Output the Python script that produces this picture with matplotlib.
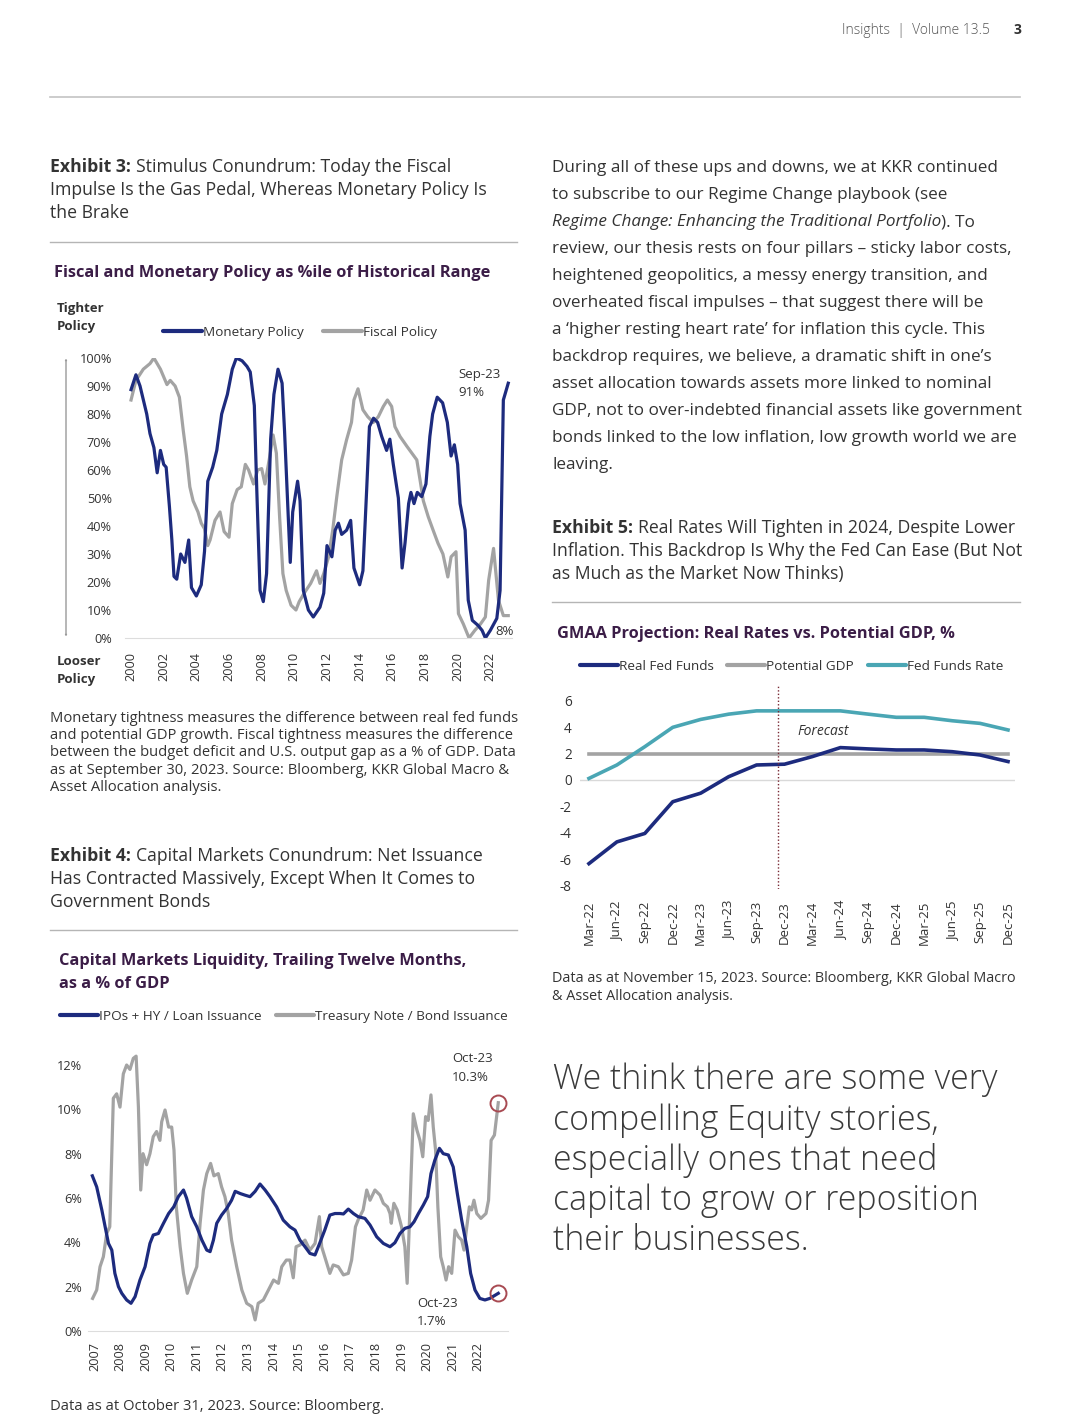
import matplotlib.pyplot as plt
from matplotlib.patches import FancyArrowPatch
from matplotlib.lines import Line2D
import numpy as np

plt.rcParams['font.family'] = ['Open Sans', 'DejaVu Sans']
plt.rcParams['axes.unicode_minus'] = False

W, H = 1070, 1426
fig = plt.figure(figsize=(W / 100, H / 100), dpi=100)

NAVY = '#1d2b7e'
GRAY = '#a3a3a3'
TEAL = '#4aa6b4'
PURPLE = '#3b1d47'
TXT = '#333333'

##########################################
# data - Exhibit 3 (percentile of historical range)
mon_years = [2000.00, 2000.30, 2000.55, 2000.96, 2001.16, 2001.40, 2001.60, 2001.80, 2002.00, 2002.15,
             2002.35, 2002.50, 2002.63, 2002.80, 2003.04, 2003.30, 2003.53, 2003.70, 2004.00, 2004.30,
             2004.50, 2004.70, 2005.00, 2005.25, 2005.55, 2005.90, 2006.20, 2006.45, 2006.80, 2007.10,
             2007.30, 2007.55, 2007.70, 2007.90, 2008.10, 2008.30, 2008.55, 2008.75, 2009.00, 2009.25,
             2009.40, 2009.60, 2009.75, 2009.90, 2010.20, 2010.35, 2010.55, 2010.86, 2011.16, 2011.57,
             2011.80, 2012.00, 2012.30, 2012.50, 2012.70, 2012.90, 2013.20, 2013.45, 2013.65, 2014.00,
             2014.20, 2014.43, 2014.60, 2014.85, 2015.10, 2015.35, 2015.65, 2015.85, 2016.06, 2016.37,
             2016.60, 2016.78, 2017.00, 2017.14, 2017.33, 2017.53, 2017.80, 2018.06, 2018.30, 2018.47,
             2018.75, 2019.08, 2019.37, 2019.60, 2019.80, 2020.00, 2020.15, 2020.46, 2020.65, 2020.90,
             2021.25, 2021.50, 2021.70, 2022.00, 2022.40, 2022.60, 2022.80, 2023.10]
mon_vals = [88.7, 94, 90, 80, 73, 68, 59, 67, 62, 61,
            47, 35, 22, 21, 30, 27, 35, 18, 15, 19,
            31, 56, 61, 67, 80, 87, 96, 100, 99, 97,
            95, 83, 53, 17, 13, 23, 71, 87, 96, 91,
            74, 47, 27, 45, 56, 49, 17, 10, 7.5, 11,
            16, 33, 29, 38.5, 41, 37, 38.5, 42, 25, 19,
            24, 53, 75.5, 78.5, 77, 72, 67, 71, 62, 50,
            25, 34, 48, 52, 48, 52, 50.5, 55, 72, 80,
            86, 84, 77, 65, 69, 62, 48, 38.5, 13.5, 6.3,
            4.5, 2.7, 0, 2.7, 7, 17, 85, 91]

fis_years = [2000.00, 2000.30, 2000.75, 2001.16, 2001.40, 2001.80, 2002.20, 2002.40, 2002.70, 2002.96,
             2003.20, 2003.40, 2003.60, 2003.80, 2004.10, 2004.30, 2004.50, 2004.70, 2004.84, 2005.14,
             2005.45, 2005.70, 2006.00, 2006.20, 2006.50, 2006.75, 2007.00, 2007.20, 2007.50, 2007.75,
             2008.00, 2008.20, 2008.50, 2008.70, 2008.90, 2009.10, 2009.30, 2009.50, 2009.80, 2010.10,
             2010.30, 2010.60, 2011.00, 2011.36, 2011.57, 2011.80, 2012.10, 2012.35, 2012.60, 2012.90,
             2013.20, 2013.50, 2013.65, 2013.90, 2014.20, 2014.50, 2014.84, 2015.14, 2015.45, 2015.70,
             2015.96, 2016.16, 2016.47, 2016.90, 2017.20, 2017.50, 2017.70, 2017.90, 2018.20, 2018.50,
             2018.80, 2019.10, 2019.40, 2019.60, 2019.90, 2020.05, 2020.35, 2020.70, 2021.05, 2021.40,
             2021.70, 2021.90, 2022.20, 2022.50, 2022.80, 2023.10]
fis_vals = [85, 92, 96, 98, 100, 96, 90.5, 92, 90, 86,
            74, 65, 54, 49, 45, 41, 39, 33, 35, 42,
            45, 38, 36, 48, 53, 54, 62, 60, 55, 60,
            60.5, 55, 65, 72.5, 66, 43, 23, 17, 11.7, 10,
            13, 16, 19.5, 24, 19.5, 23, 29, 38.5, 50.5, 63.6,
            70.8, 77, 85, 89, 81.5, 79, 77, 79, 82.7, 85,
            82.7, 75.5, 72, 68.4, 66, 63.6, 56.4, 49, 43.3, 38.5,
            33.8, 30, 21.8, 29, 30.8, 8.7, 5, 0, 2.7, 5,
            7.5, 20.6, 32, 13.5, 8, 8]

##########################################
# data - Exhibit 4 (% of GDP, trailing twelve months)
ipo_years = [2006.92, 2007.09, 2007.29, 2007.42, 2007.55, 2007.68, 2007.80, 2007.94, 2008.07, 2008.26,
             2008.43, 2008.59, 2008.78, 2008.98, 2009.17, 2009.30, 2009.50, 2009.70, 2009.90, 2010.10,
             2010.28, 2010.48, 2010.60, 2010.80, 2011.00, 2011.20, 2011.39, 2011.52, 2011.65, 2011.78,
             2011.97, 2012.17, 2012.36, 2012.50, 2012.70, 2012.88, 2013.08, 2013.28, 2013.47, 2013.67,
             2013.86, 2014.12, 2014.38, 2014.64, 2014.84, 2015.03, 2015.23, 2015.42, 2015.62, 2015.80,
             2016.00, 2016.20, 2016.40, 2016.60, 2016.73, 2016.92, 2017.12, 2017.30, 2017.57, 2017.77,
             2018.03, 2018.29, 2018.55, 2018.74, 2018.94, 2019.13, 2019.33, 2019.49, 2019.66, 2019.85,
             2020.02, 2020.15, 2020.30, 2020.48, 2020.63, 2020.83, 2021.02, 2021.18, 2021.35, 2021.55,
             2021.70, 2021.87, 2022.06, 2022.26, 2022.45, 2022.78]
ipo_vals = [7.0, 6.5, 5.46, 4.7, 3.95, 3.65, 2.6, 2.0, 1.7, 1.4,
            1.25, 1.55, 2.3, 2.9, 3.95, 4.33, 4.4, 4.86, 5.3, 5.6,
            6.06, 6.36, 6.0, 5.16, 4.7, 4.1, 3.65, 3.58, 4.1, 4.86,
            5.23, 5.53, 5.9, 6.3, 6.2, 6.13, 6.06, 6.3, 6.63, 6.36,
            6.06, 5.6, 5.0, 4.7, 4.55, 4.1, 3.8, 3.5, 3.43, 3.95,
            4.55, 5.23, 5.3, 5.3, 5.28, 5.5, 5.3, 5.16, 5.08, 4.78,
            4.25, 3.95, 3.8, 3.98, 4.4, 4.63, 4.7, 4.93, 5.3, 5.68,
            6.06, 7.1, 7.7, 8.24, 8.0, 7.94, 7.4, 6.2, 5.0, 3.8,
            2.6, 1.85, 1.47, 1.4, 1.47, 1.7]

tsy_years = [2006.93, 2007.09, 2007.22, 2007.35, 2007.48, 2007.60, 2007.74, 2007.87, 2008.00, 2008.13,
             2008.26, 2008.39, 2008.52, 2008.63, 2008.72, 2008.81, 2008.90, 2009.04, 2009.17, 2009.30,
             2009.43, 2009.56, 2009.63, 2009.76, 2009.90, 2010.02, 2010.11, 2010.20, 2010.35, 2010.48,
             2010.63, 2010.80, 2011.00, 2011.13, 2011.26, 2011.39, 2011.54, 2011.67, 2011.84, 2011.97,
             2012.10, 2012.23, 2012.36, 2012.56, 2012.76, 2012.95, 2013.15, 2013.28, 2013.40, 2013.60,
             2013.80, 2014.00, 2014.19, 2014.32, 2014.50, 2014.64, 2014.77, 2014.88, 2015.03, 2015.23,
             2015.42, 2015.62, 2015.79, 2015.88, 2016.00, 2016.20, 2016.33, 2016.53, 2016.73, 2016.92,
             2017.05, 2017.20, 2017.30, 2017.50, 2017.64, 2017.77, 2017.96, 2018.16, 2018.29, 2018.45,
             2018.55, 2018.60, 2018.70, 2018.83, 2019.00, 2019.13, 2019.22, 2019.33, 2019.46, 2019.60,
             2019.72, 2019.83, 2019.94, 2020.04, 2020.15, 2020.24, 2020.33, 2020.42, 2020.53, 2020.63,
             2020.74, 2020.84, 2020.96, 2021.09, 2021.22, 2021.35, 2021.44, 2021.55, 2021.65, 2021.74,
             2021.83, 2021.94, 2022.10, 2022.30, 2022.40, 2022.50, 2022.63, 2022.78]
tsy_vals = [1.47, 1.85, 2.9, 3.35, 4.4, 4.7, 10.5, 10.7, 10.1, 11.6,
            12.0, 11.8, 12.3, 12.4, 10.1, 6.36, 8.0, 7.5, 8.0, 8.77,
            9.0, 8.6, 9.44, 9.97, 9.2, 9.2, 8.16, 5.6, 3.8, 2.6,
            1.7, 2.3, 2.9, 4.86, 6.36, 7.1, 7.56, 7.0, 7.1, 6.5,
            6.06, 5.3, 4.1, 2.9, 1.85, 1.25, 1.1, 0.5, 1.25, 1.4,
            1.85, 2.3, 2.15, 2.9, 3.2, 3.2, 2.4, 3.8, 3.88, 4.1,
            3.65, 3.95, 5.16, 3.8, 3.35, 2.6, 2.98, 2.9, 2.53, 2.6,
            3.2, 4.7, 5.0, 5.46, 6.36, 5.9, 6.36, 6.13, 5.76, 5.6,
            5.3, 4.86, 5.76, 5.46, 4.7, 3.8, 2.15, 5.6, 9.8, 9.07,
            8.6, 7.86, 9.67, 9.5, 10.65, 9.2, 8.16, 5.6, 3.35, 2.9,
            2.3, 2.9, 2.6, 4.55, 4.25, 4.1, 3.65, 4.7, 5.6, 5.46,
            5.9, 5.3, 5.08, 5.3, 5.9, 8.6, 8.84, 10.3]

##########################################
# data - Exhibit 5 (quarterly, %)
quarters = ['Mar-22', 'Jun-22', 'Sep-22', 'Dec-22', 'Mar-23', 'Jun-23', 'Sep-23', 'Dec-23',
            'Mar-24', 'Jun-24', 'Sep-24', 'Dec-24', 'Mar-25', 'Jun-25', 'Sep-25', 'Dec-25']
real_ff = [-6.35, -4.7, -4.06, -1.65, -1.0, 0.25, 1.14, 1.2,
           1.78, 2.46, 2.36, 2.28, 2.28, 2.15, 1.9, 1.4]
pot_gdp = [2.0] * 16
ff_rate = [0.12, 1.14, 2.53, 4.0, 4.6, 5.0, 5.25, 5.25,
           5.25, 5.25, 5.0, 4.76, 4.76, 4.5, 4.3, 3.8]
forecast_at = 6.77


def px_ax(l, t, r, b):
    return fig.add_axes([l / W, 1 - b / H, (r - l) / W, (b - t) / H])


def txt(x, y, parts, size, color=TXT, gap=0.27):
    # parts: list of (string, weight, style); y is the visual line centre in px
    r = fig.canvas.get_renderer()
    base = y + 0.36 * size * 100 / 72
    cx = x
    for i, (s, wt, st) in enumerate(parts):
        t = fig.text(cx / W, 1 - base / H, s, fontsize=size, color=color,
                     fontweight=wt, fontstyle=st, ha='left', va='baseline')
        cx += t.get_window_extent(renderer=r).width
        if i < len(parts) - 1 and parts[i + 1][0][:1] not in ').,':
            cx += gap * size * 100 / 72
    return cx


def hline(y, x0, x1, c='#b5b5b5', lw=1.0):
    fig.add_artist(Line2D([x0 / W, x1 / W], [1 - y / H, 1 - y / H], color=c, lw=lw))


def leg(x0, x1, y, color, label, size=9.7):
    fig.add_artist(Line2D([x0 / W, x1 / W], [1 - y / H, 1 - y / H], color=color, lw=3,
                          solid_capstyle='round'))
    txt(x1 + 1, y, [(label, 'normal', 'normal')], size)


##########################################
# page header
txt(842, 29, [('Insights  |  Volume 13.5', 300, 'normal')], 10, color='#555555')
txt(1013, 29, [('3', 'bold', 'normal')], 10, color='#333333')
hline(97, 50, 1020, c='#c4c4c4', lw=1.2)

##########################################
# Exhibit 3 text
R = 'normal'
TS = 12.7     # exhibit titles
CT = 11.8     # chart titles
CS = 10.6     # captions
txt(50, 166, [('Exhibit 3:', 'bold', R), ('Stimulus Conundrum: Today the Fiscal', R, R)], TS)
txt(50, 189, [('Impulse Is the Gas Pedal, Whereas Monetary Policy Is', R, R)], TS)
txt(50, 212, [('the Brake', R, R)], TS)
hline(242, 50, 517)
txt(54, 271, [('Fiscal and Monetary Policy as %ile of Historical Range', 'bold', R)], CT, color=PURPLE)
txt(57, 307, [('Tighter', 'bold', R)], 9.5)
txt(57, 325, [('Policy', 'bold', R)], 9.5)
txt(57, 660, [('Looser', 'bold', R)], 9.5)
txt(57, 678, [('Policy', 'bold', R)], 9.5)
leg(163, 202, 331, NAVY, 'Monetary Policy')
leg(323, 362, 331, GRAY, 'Fiscal Policy')
fig.add_artist(FancyArrowPatch((66 / W, 1 - 639 / H), (66 / W, 1 - 356 / H),
                               transform=fig.transFigure, color='#9a9a9a', lw=1,
                               arrowstyle='<->,head_length=0.5,head_width=0.35'))

ax1 = px_ax(125, 358, 512, 638)
ax1.plot(fis_years, fis_vals, color=GRAY, lw=2.3, solid_joinstyle='round')
ax1.plot(mon_years, mon_vals, color=NAVY, lw=2.3, solid_joinstyle='round')
ax1.set_xlim(1999.63, 2023.33)
ax1.set_ylim(0, 100)
ax1.set_yticks(range(0, 101, 10))
ax1.set_yticklabels([f'{v}%' for v in range(0, 101, 10)])
ax1.set_xticks(range(2000, 2023, 2))
ax1.set_xticklabels([str(v) for v in range(2000, 2023, 2)], rotation=90)
ax1.tick_params(axis='y', length=0, pad=9.5, labelsize=9.2, labelcolor=TXT)
ax1.tick_params(axis='x', length=0, pad=10, labelsize=9.2, labelcolor=TXT)
for s in ['top', 'right', 'left']:
    ax1.spines[s].set_visible(False)
ax1.spines['bottom'].set_color('#dddddd')
ax1.patch.set_alpha(0)
txt(458, 373, [('Sep-23', R, R)], 9.5)
txt(458, 391, [('91%', R, R)], 9.5)
txt(495, 630, [('8%', R, R)], 9.5)

txt(50, 717, [('Monetary tightness measures the difference between real fed funds', R, R)], CS)
txt(50, 734, [('and potential GDP growth. Fiscal tightness measures the difference', R, R)], CS)
txt(50, 751, [('between the budget deficit and U.S. output gap as a % of GDP. Data', R, R)], CS)
txt(50, 769, [('as at September 30, 2023. Source: Bloomberg, KKR Global Macro &', R, R)], CS)
txt(50, 786, [('Asset Allocation analysis.', R, R)], CS)

##########################################
# Exhibit 4
txt(50, 855, [('Exhibit 4:', 'bold', R), ('Capital Markets Conundrum: Net Issuance', R, R)], TS)
txt(50, 878, [('Has Contracted Massively, Except When It Comes to', R, R)], TS)
txt(50, 901, [('Government Bonds', R, R)], TS)
hline(930, 50, 517)
txt(59, 959, [('Capital Markets Liquidity, Trailing Twelve Months,', 'bold', R)], CT, color=PURPLE)
txt(59, 982, [('as a % of GDP', 'bold', R)], CT, color=PURPLE)
leg(60, 98, 1015, NAVY, 'IPOs + HY / Loan Issuance')
leg(276, 314, 1015, GRAY, 'Treasury Note / Bond Issuance')

ax2 = px_ax(88, 1051.7, 508, 1331)
ax2.plot(tsy_years, tsy_vals, color=GRAY, lw=2.3, solid_joinstyle='round')
ax2.plot(ipo_years, ipo_vals, color=NAVY, lw=2.3, solid_joinstyle='round')
ax2.plot([tsy_years[-1], ipo_years[-1]], [tsy_vals[-1], ipo_vals[-1]], ls='none', marker='o',
         ms=11.5, mfc='none', mec='#a84a52', mew=1.4)
ax2.set_xlim(2006.75, 2023.16)
ax2.set_ylim(0, 12.6)
ax2.set_yticks(range(0, 13, 2))
ax2.set_yticklabels([f'{v}%' for v in range(0, 13, 2)])
ax2.set_xticks(range(2007, 2023))
ax2.set_xticklabels([str(v) for v in range(2007, 2023)], rotation=90)
ax2.tick_params(axis='y', length=0, pad=4.5, labelsize=9.2, labelcolor=TXT)
ax2.tick_params(axis='x', length=0, pad=8, labelsize=9.2, labelcolor=TXT)
for s in ['top', 'right', 'left']:
    ax2.spines[s].set_visible(False)
ax2.spines['bottom'].set_color('#dddddd')
ax2.patch.set_alpha(0)
txt(452, 1057, [('Oct-23', R, R)], 9.5)
txt(452, 1076, [('10.3%', R, R)], 9.5)
txt(417, 1302, [('Oct-23', R, R)], 9.5)
txt(417, 1320, [('1.7%', R, R)], 9.5)
txt(50, 1405, [('Data as at October 31, 2023. Source: Bloomberg.', R, R)], CS)

##########################################
# right column text
body = ['During all of these ups and downs, we at KKR continued',
        'to subscribe to our Regime Change playbook (see',
        None,
        'review, our thesis rests on four pillars \u2013 sticky labor costs,',
        'heightened geopolitics, a messy energy transition, and',
        'overheated fiscal impulses \u2013 that suggest there will be',
        'a \u2018higher resting heart rate\u2019 for inflation this cycle. This',
        'backdrop requires, we believe, a dramatic shift in one\u2019s',
        'asset allocation towards assets more linked to nominal',
        'GDP, not to over-indebted financial assets like government',
        'bonds linked to the low inflation, low growth world we are',
        'leaving.']
BS = 12.35
for i, ln in enumerate(body):
    y = 166 + 27 * i
    if ln is None:
        txt(552, y, [('Regime Change: Enhancing the Traditional Portfolio', R, 'italic'),
                     ('). To', R, R)], BS)
    else:
        txt(552, y, [(ln, R, R)], BS)

txt(552, 527, [('Exhibit 5:', 'bold', R), ('Real Rates Will Tighten in 2024, Despite Lower', R, R)], TS)
txt(552, 550, [('Inflation. This Backdrop Is Why the Fed Can Ease (But Not', R, R)], TS)
txt(552, 573, [('as Much as the Market Now Thinks)', R, R)], TS)
hline(602, 552, 1020)
txt(557, 632, [('GMAA Projection: Real Rates vs. Potential GDP, %', 'bold', R)], CT, color=PURPLE)
leg(580, 618, 665, NAVY, 'Real Fed Funds')
leg(727, 765, 665, GRAY, 'Potential GDP')
leg(868, 906, 665, TEAL, 'Fed Funds Rate')

ax3 = px_ax(580, 686.5, 1015, 889.3)
qx = np.arange(len(quarters))
ax3.axhline(0, color='#d9d9d9', lw=1, zorder=1)
ax3.plot(qx, pot_gdp, color=GRAY, lw=2.6, zorder=2)
ax3.plot(qx, ff_rate, color=TEAL, lw=2.6, zorder=3)
ax3.plot(qx, real_ff, color=NAVY, lw=2.6, zorder=4)
ax3.axvline(forecast_at, color='#7a2a35', lw=1, ls=(0, (1, 1.5)), zorder=5)
ax3.text(forecast_at + 0.7, 3.7, 'Forecast', fontsize=10, fontstyle='italic', color=TXT,
         ha='left', va='center')
ax3.set_xlim(-0.32, 15.25)
ax3.set_ylim(-8.3, 7.1)
ax3.set_yticks(range(-8, 7, 2))
ax3.set_xticks(qx)
ax3.set_xticklabels(quarters, rotation=90)
ax3.tick_params(axis='y', length=0, pad=6, labelsize=9.8, labelcolor=TXT)
ax3.tick_params(axis='x', length=0, pad=8.5, labelsize=9.5, labelcolor=TXT)
for s in ax3.spines.values():
    s.set_visible(False)
ax3.patch.set_alpha(0)
txt(552, 977, [('Data as at November 15, 2023. Source: Bloomberg, KKR Global Macro', R, R)], 10.35)
txt(552, 995, [('& Asset Allocation analysis.', R, R)], 10.35)

quote = ['We think there are some very',
         'compelling Equity stories,',
         'especially ones that need',
         'capital to grow or reposition',
         'their businesses.']
for i, ln in enumerate(quote):
    txt(553, 1077 + 40.3 * i, [(ln, 300, R)], 24.4, color='#3a3a3a')

fig.savefig('out.png', dpi=100)
